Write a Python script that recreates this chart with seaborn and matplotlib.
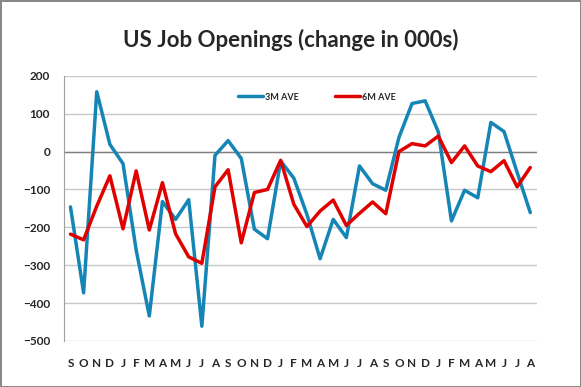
import numpy as np
import pandas as pd
import matplotlib
matplotlib.use("Agg")
import matplotlib.pyplot as plt
import seaborn as sns

months = ["S", "O", "N", "D", "J", "F", "M", "A", "M", "J", "J", "A"] * 3

ave_3m = [-146, -373, 158, 19, -32, -260, -434, -132, -179, -127, -461, -10,
          29, -18, -205, -230, -25, -70, -166, -283, -179, -227, -38, -85,
          -102, 37, 127, 134, 52, -183, -102, -122, 77, 53, -55, -161]
ave_6m = [-218, -233, -144, -64, -204, -51, -207, -82, -217, -278, -295, -93,
          -48, -241, -108, -100, -23, -139, -198, -157, -128, -195, -163, -133,
          -164, 0, 21, 15, 41, -29, 15, -38, -53, -24, -93, -42]

idx = np.arange(len(months))
df = pd.DataFrame({
    "idx": np.concatenate([idx, idx]),
    "value": ave_3m + ave_6m,
    "series": ["3M AVE"] * len(idx) + ["6M AVE"] * len(idx),
})

sns.set_style("white")
plt.rcParams["font.family"] = ["Lato", "DejaVu Sans"]

fig = plt.figure(figsize=(5.81, 3.87), dpi=100)
fig.patch.set_edgecolor("#888888")
fig.patch.set_linewidth(2)
ax = fig.add_axes([0.110, 0.119, 0.814, 0.685])

sns.lineplot(data=df, x="idx", y="value", hue="series",
             palette={"3M AVE": "#1585b5", "6M AVE": "#e00000"},
             linewidth=2.5, ax=ax)

ax.set_xlim(-0.5, len(months) - 0.5)
ax.set_ylim(-500, 200)
ax.set_yticks(range(-500, 201, 100))
ax.set_xticks(idx)
ax.set_xticklabels(months)
ax.tick_params(axis="both", length=0, labelsize=8.5)
ax.tick_params(axis="x", pad=12)
ax.tick_params(axis="y", pad=10)
for lab in ax.get_xticklabels() + ax.get_yticklabels():
    lab.set_fontweight("bold")
ax.set_xlabel("")
ax.set_ylabel("")

ax.grid(axis="y", color="#c8c8c8", linewidth=1)
ax.axhline(0, color="#808080", linewidth=1, zorder=1)
for s in ["top", "right", "bottom"]:
    ax.spines[s].set_visible(False)
ax.spines["left"].set_color("#a0a0a0")
ax.set_axisbelow(True)

leg = ax.legend(loc="center", bbox_to_anchor=(0.535, 0.92), ncol=2, frameon=False,
                fontsize=6.5, handlelength=2.8, columnspacing=4, handletextpad=0.2)
for t in leg.get_texts():
    t.set_fontweight("bold")

fig.text(0.5, 1 - 40 / 387, "US Job Openings (change in 000s)", fontsize=16,
         fontweight="bold", ha="center", va="center")

fig.savefig("out.png", dpi=100)
